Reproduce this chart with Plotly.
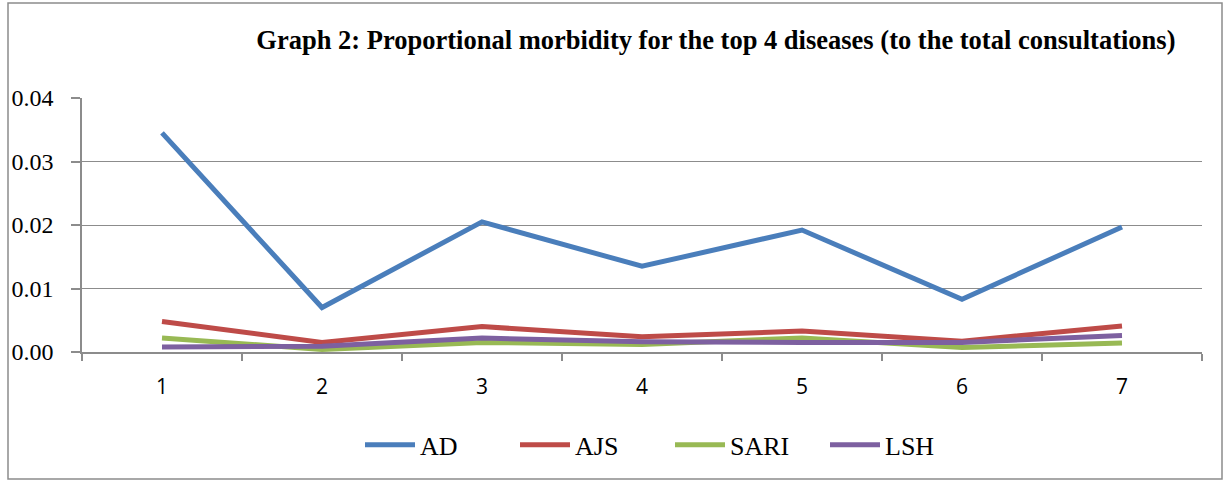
import plotly.graph_objects as go

categories = ["1", "2", "3", "4", "5", "6", "7"]
ad = [0.0345, 0.0070, 0.0205, 0.0135, 0.0192, 0.0083, 0.0197]
ajs = [0.0048, 0.0015, 0.0040, 0.0024, 0.0033, 0.0017, 0.0041]
sari = [0.0022, 0.0004, 0.0015, 0.0012, 0.0022, 0.0007, 0.0014]
lsh = [0.0008, 0.0009, 0.0022, 0.0016, 0.0015, 0.0015, 0.0026]
y_ticks = [0.0, 0.01, 0.02, 0.03, 0.04]
y_tick_labels = ["0.00", "0.01", "0.02", "0.03", "0.04"]

series = [
    ("AD", ad, "#4A7EBB"),
    ("AJS", ajs, "#BE4B48"),
    ("SARI", sari, "#98B954"),
    ("LSH", lsh, "#7D60A0"),
]

fig = go.Figure()
for name, vals, color in series:
    fig.add_trace(go.Scatter(
        x=categories, y=vals, name=name, mode="lines",
        line=dict(color=color, width=5),
    ))

grid = "#8C8C8C"
serif = "Liberation Serif, Times New Roman, serif"

fig.update_layout(
    width=1225, height=480,
    margin=dict(l=82, r=23, t=98, b=128),
    paper_bgcolor="white", plot_bgcolor="white",
    showlegend=True,
    title=dict(
        text="<b>Graph 2: Proportional morbidity for the top 4 diseases (to the total consultations)</b>",
        font=dict(family=serif, size=26.5, color="black"),
        x=0.566, xref="paper", xanchor="center",
        y=1 - 40 / 480, yref="container", yanchor="middle",
    ),
    legend=dict(
        orientation="h", x=0.525, xanchor="center", y=-0.366, yanchor="middle",
        font=dict(family=serif, size=26, color="black"),
        itemwidth=50, entrywidthmode="pixels", entrywidth=90,
    ),
    xaxis=dict(
        type="category", range=[-0.5, 6.5],
        showgrid=False, showline=True, linecolor=grid, linewidth=1.5,
        ticks="outside", tickson="boundaries", ticklen=7, tickcolor=grid, tickwidth=1.5,
        tickfont=dict(family="Open Sans, Liberation Sans, sans-serif", size=21, color="black"),
        ticklabelstandoff=15,
    ),
    yaxis=dict(
        range=[0, 0.04], tickvals=y_ticks, ticktext=y_tick_labels,
        showgrid=True, gridcolor=grid, gridwidth=1,
        showline=True, linecolor=grid, linewidth=1.5,
        ticks="outside", ticklen=9, tickcolor=grid, tickwidth=1.5,
        tickfont=dict(family=serif, size=24, color="black"),
        ticklabelstandoff=13,
        zeroline=False,
    ),
    shapes=[dict(
        type="rect", xref="paper", yref="paper",
        x0=(8 - 82) / 1120, x1=(1222 - 82) / 1120,
        y0=(352 - 479) / 254, y1=1 + (98 - 3) / 254,
        line=dict(color="#8C8C8C", width=1.5), fillcolor="rgba(0,0,0,0)", layer="below",
    )],
)

fig.write_html(
    "out.html",
    config={"displayModeBar": False},
    post_script="document.body.style.margin='0';document.body.style.overflow='hidden';",
)
